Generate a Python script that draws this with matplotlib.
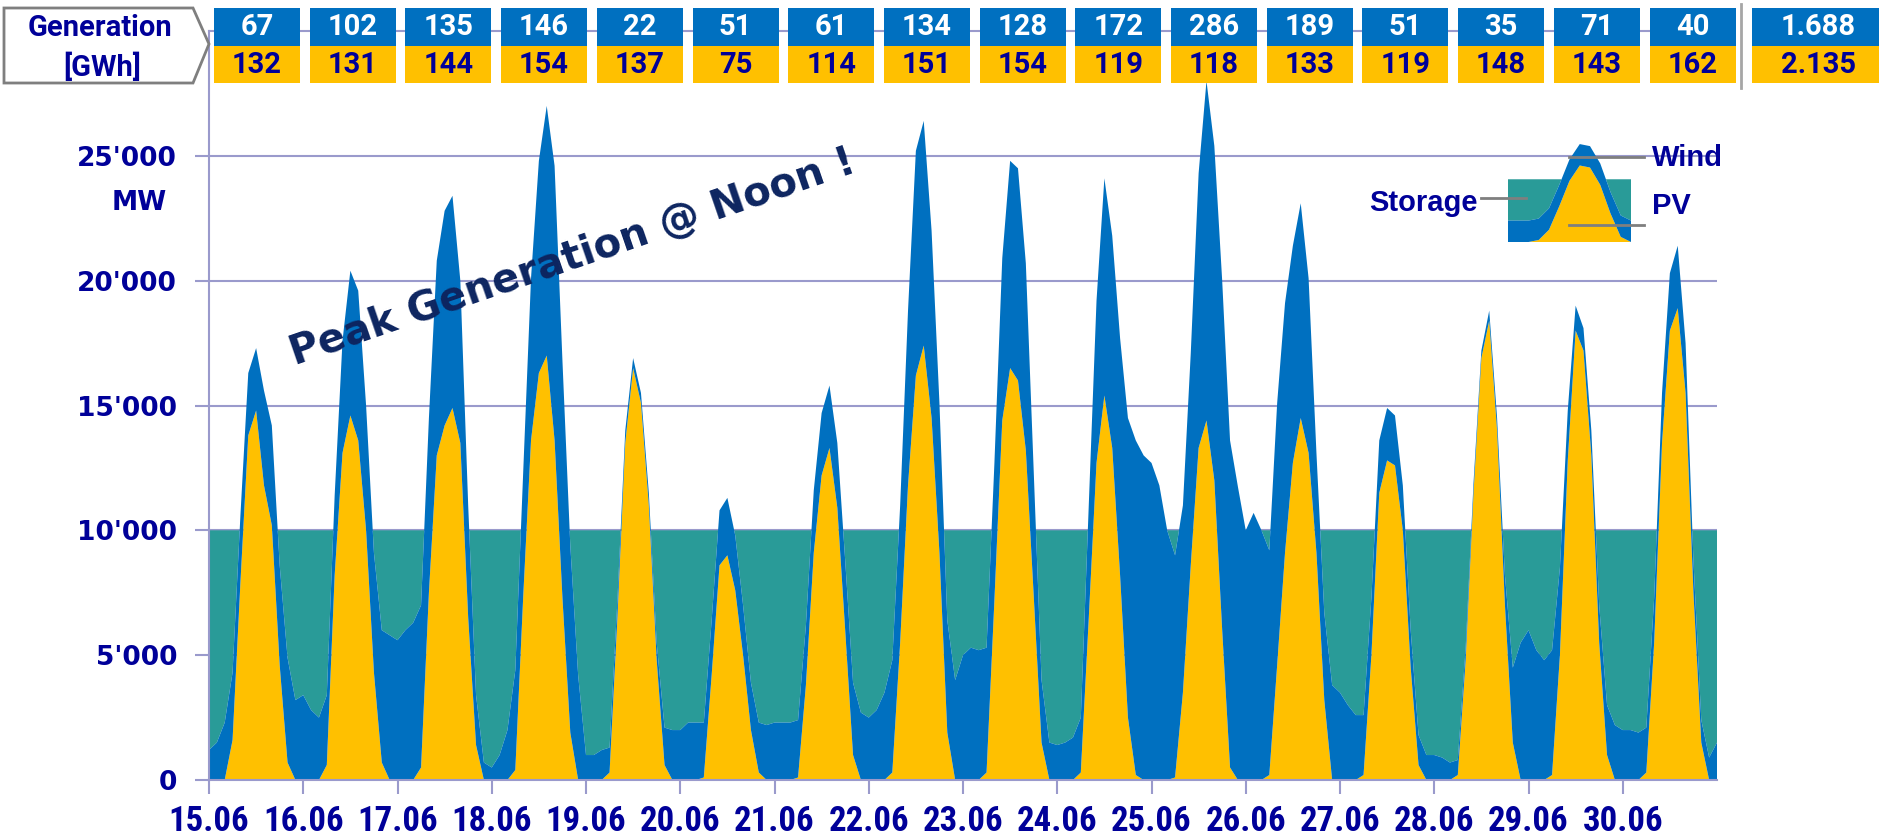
import numpy as np
import matplotlib
matplotlib.use("Agg")
import matplotlib.pyplot as plt
from matplotlib.patches import Rectangle, Polygon
from matplotlib.lines import Line2D

# ---- values ----
days = ['15.06', '16.06', '17.06', '18.06', '19.06', '20.06', '21.06', '22.06',
        '23.06', '24.06', '25.06', '26.06', '27.06', '28.06', '29.06', '30.06']
wind_gwh = ['67', '102', '135', '146', '22', '51', '61', '134',
            '128', '172', '286', '189', '51', '35', '71', '40']
pv_gwh = ['132', '131', '144', '154', '137', '75', '114', '151',
          '154', '119', '118', '133', '119', '148', '143', '162']
wind_total_gwh = '1.688'
pv_total_gwh = '2.135'

# MW, every 2 hours (00:00, 02:00 ... 22:00), one row per day
pv_mw = [
    [0, 0, 0, 1600, 7900, 13800, 14800, 11800, 10200, 4600, 700, 0],
    [0, 0, 0, 600, 8200, 13100, 14600, 13600, 10000, 4300, 700, 0],
    [0, 0, 0, 500, 7500, 13000, 14200, 14900, 13500, 6500, 1400, 0],
    [0, 0, 0, 400, 7300, 13600, 16300, 17000, 13600, 7300, 1900, 0],
    [0, 0, 0, 300, 6500, 13500, 16500, 15100, 11000, 4800, 600, 0],
    [0, 0, 0, 100, 4200, 8600, 9000, 7600, 5000, 2000, 300, 0],
    [0, 0, 0, 100, 3800, 9100, 12200, 13300, 10900, 6000, 1000, 0],
    [0, 0, 0, 300, 5500, 11800, 16200, 17400, 14500, 9100, 1900, 0],
    [0, 0, 0, 300, 7200, 14400, 16500, 16000, 13200, 7400, 1500, 0],
    [0, 0, 0, 300, 6400, 12700, 15400, 13300, 8200, 2500, 200, 0],
    [0, 0, 0, 100, 3500, 8600, 13300, 14400, 12000, 6000, 500, 0],
    [0, 0, 0, 200, 4600, 9100, 12700, 14500, 13100, 9100, 3200, 0],
    [0, 0, 0, 200, 5000, 11500, 12800, 12600, 10000, 4500, 600, 0],
    [0, 0, 0, 200, 4800, 11500, 16900, 18400, 14000, 7000, 1500, 0],
    [0, 0, 0, 200, 5000, 12800, 18000, 17200, 13000, 5500, 1000, 0],
    [0, 0, 0, 300, 5500, 13500, 18000, 18900, 15500, 7500, 1500, 0],
]
wind_mw = [
    [1200, 1500, 2300, 2700, 2700, 2500, 2500, 3800, 4000, 4000, 4200, 3200],
    [3400, 2800, 2500, 2800, 3200, 4500, 5800, 6000, 5000, 4800, 5300, 5800],
    [5600, 6000, 6300, 6500, 7000, 7800, 8600, 8500, 6500, 4500, 2000, 700],
    [500, 1000, 2000, 4000, 5000, 6500, 8500, 10000, 11000, 9500, 7500, 4200],
    [1000, 1000, 1200, 1000, 700, 500, 400, 400, 500, 700, 1500, 2000],
    [2000, 2300, 2300, 2200, 2200, 2200, 2300, 2200, 2000, 1900, 2000, 2200],
    [2300, 2300, 2300, 2300, 2400, 2500, 2500, 2500, 2600, 2800, 2900, 2700],
    [2500, 2800, 3500, 4500, 5500, 7000, 9000, 9000, 7500, 6000, 4500, 4000],
    [5000, 5300, 5200, 5000, 5500, 6500, 8300, 8500, 7500, 5000, 2500, 1500],
    [1400, 1500, 1700, 2200, 4500, 6500, 8700, 8500, 9500, 12000, 13400, 13000],
    [12700, 11800, 10000, 8900, 7500, 8500, 11000, 13600, 13400, 14000, 13100, 11750],
    [10000, 10700, 10000, 9000, 10500, 10000, 8700, 8600, 7000, 4000, 3500, 3800],
    [3500, 3000, 2600, 2400, 2300, 2100, 2100, 2000, 1800, 1500, 1200, 1000],
    [1000, 900, 700, 600, 500, 400, 300, 400, 500, 1200, 3000, 5500],
    [6000, 5200, 4800, 5000, 3500, 2000, 1000, 900, 1000, 1500, 2000, 2200],
    [2000, 2000, 1900, 1800, 1800, 2000, 2300, 2500, 2000, 1300, 900, 900],
]
end_pv_mw = 0        # 01.07 00:00
end_wind_mw = 1500
storage_level = 10000

y_ticks = [0, 5000, 10000, 15000, 20000, 25000]
y_ticklabels = ["0", "5'000", "10'000", "15'000", "20'000", "25'000"]

# small sketch used as legend
legend_pv = [0, 0, 0, 0.2, 1.2, 3.5, 6.0, 7.5, 7.3, 5.6, 2.8, 0.5, 0]
legend_wind = [2.1, 2.1, 2.1, 2.1, 2.1, 2.1, 2.1, 2.1, 2.1, 2.1, 2.1, 2.1, 2.1]
legend_storage_level = 6.15

PV_C = '#FFC000'
WIND_C = '#0070C0'
STOR_C = '#299B98'
NAVY = '#000099'
GRID_C = '#9A9ACC'
CONDENSED = ['Roboto Condensed', 'Roboto', 'DejaVu Sans']
TABLE_FONT = ['Roboto', 'DejaVu Sans']

W, H = 1879, 835
fig = plt.figure(figsize=(W / 100, H / 100), dpi=100)


def fx(px):
    return px / W


def fy(py):
    return 1 - py / H


ax = fig.add_axes([fx(209), fy(780), fx(1717) - fx(209), fy(31) - fy(780)])

pv = np.append(np.ravel(pv_mw), end_pv_mw).astype(float)
wind = np.append(np.ravel(wind_mw), end_wind_mw).astype(float)
t = np.arange(len(pv)) * 2 / 24
total = pv + wind

ax.fill_between(t, total, storage_level, where=total < storage_level,
                interpolate=True, color=STOR_C, lw=0)
ax.stackplot(t, pv, wind, colors=[PV_C, WIND_C], lw=0)

ax.set_xlim(0, 16)
ax.set_ylim(0, 30000)
ax.set_xticks(range(len(days)))
ax.set_xticklabels(days)
ax.set_yticks(y_ticks)
ax.set_yticklabels(y_ticklabels)
for s in ['left', 'top', 'bottom']:
    ax.spines[s].set_color(GRID_C)
    ax.spines[s].set_linewidth(1.5)
ax.spines['right'].set_visible(False)
ax.yaxis.grid(True, color=GRID_C, lw=1.5)
ax.set_axisbelow(True)
ax.tick_params(axis='both', color=GRID_C, length=10, width=1.5, direction='out')
ax.tick_params(axis='y', pad=13, labelsize=19, labelcolor=NAVY)
ax.tick_params(axis='x', pad=8, labelsize=25, labelcolor=NAVY)
for lab in ax.get_yticklabels():
    lab.set_fontweight('bold')
    lab.set_family('DejaVu Sans')
for lab in ax.get_xticklabels():
    lab.set_fontweight('bold')
    lab.set_family(CONDENSED)

fig.text(fx(139), fy(203), 'MW', ha='center', va='center', fontsize=19,
         fontweight='bold', family='DejaVu Sans', color=NAVY)

ax.text(3.86, 20900, 'Peak Generation @ Noon !', rotation=19, rotation_mode='anchor',
        ha='center', va='center', fontsize=29, fontweight='bold', color='#0D2560')

# ---- generation table on top (pixel layout of the boxes) ----
box_w = 86
for i in range(len(days)):
    cx = 257 + 95.7 * i
    fig.add_artist(Rectangle((fx(cx - box_w / 2), fy(46)), fx(box_w), fy(8) - fy(46),
                             facecolor=WIND_C, lw=0, zorder=5))
    fig.add_artist(Rectangle((fx(cx - box_w / 2), fy(83)), fx(box_w), fy(46) - fy(83),
                             facecolor=PV_C, lw=0, zorder=5))
    fig.text(fx(cx), fy(27), wind_gwh[i], ha='center', va='center', fontsize=21,
             fontweight='bold', color='white', family=TABLE_FONT, zorder=6)
    fig.text(fx(cx), fy(65), pv_gwh[i], ha='center', va='center', fontsize=21,
             fontweight='bold', color=NAVY, family=TABLE_FONT, zorder=6)

fig.add_artist(Rectangle((fx(1752), fy(46)), fx(140), fy(8) - fy(46),
                         facecolor=WIND_C, lw=0, zorder=5))
fig.add_artist(Rectangle((fx(1752), fy(83)), fx(140), fy(46) - fy(83),
                         facecolor=PV_C, lw=0, zorder=5))
fig.text(fx(1818), fy(27), wind_total_gwh, ha='center', va='center', fontsize=21,
         fontweight='bold', color='white', family=TABLE_FONT, zorder=6)
fig.text(fx(1818), fy(65), pv_total_gwh, ha='center', va='center', fontsize=21,
         fontweight='bold', color=NAVY, family=TABLE_FONT, zorder=6)
fig.add_artist(Line2D([fx(1741), fx(1741)], [fy(4), fy(88)], color='#A6A6A6', lw=2))

fig.add_artist(Polygon([(fx(4), fy(8)), (fx(193), fy(8)), (fx(209), fy(44)),
                        (fx(193), fy(83)), (fx(4), fy(83))], closed=True,
                       transform=fig.transFigure, facecolor='white',
                       edgecolor='#7F7F7F', lw=2, zorder=4))
fig.text(fx(100), fy(28), 'Generation', ha='center', va='center', fontsize=21,
         fontweight='bold', color=NAVY, family=TABLE_FONT, zorder=6)
fig.text(fx(102), fy(67), '[GWh]', ha='center', va='center', fontsize=21,
         fontweight='bold', color=NAVY, family=TABLE_FONT, zorder=6)

# ---- legend sketch ----
lax = fig.add_axes([fx(1508), fy(242), fx(1631) - fx(1508), fy(140) - fy(242)])
lx = np.arange(len(legend_pv))
lpv = np.array(legend_pv)
lwd = np.array(legend_wind)
ltot = lpv + lwd
lax.fill_between(lx, ltot, legend_storage_level, where=ltot < legend_storage_level,
                 interpolate=True, color=STOR_C, lw=0)
lax.stackplot(lx, lpv, lwd, colors=[PV_C, WIND_C], lw=0)
lax.set_xlim(0, 12)
lax.set_ylim(0, 10)
lax.axis('off')

for (xa, xb, yy) in [(1569, 1644, 157), (1569, 1644, 225), (1481, 1526, 198)]:
    fig.add_artist(Line2D([fx(xa), fx(xb)], [fy(yy), fy(yy)], color='#7F7F7F', lw=2, zorder=5))
fig.text(fx(1652), fy(158), 'Wind', ha='left', va='center', fontsize=21,
         fontweight='bold', color=NAVY, family='Liberation Sans')
fig.text(fx(1652), fy(206), 'PV', ha='left', va='center', fontsize=21,
         fontweight='bold', color=NAVY, family='Liberation Sans')
fig.text(fx(1478), fy(203), 'Storage', ha='right', va='center', fontsize=21,
         fontweight='bold', color=NAVY, family='Liberation Sans')

fig.savefig('out.png', dpi=100)
